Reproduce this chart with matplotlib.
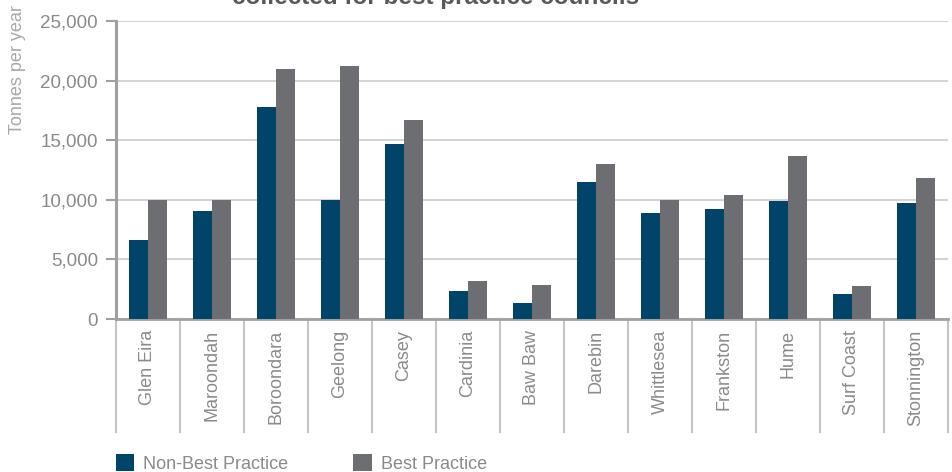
import numpy as np
import matplotlib
matplotlib.use("Agg")
import matplotlib.pyplot as plt

plt.rcParams['font.family'] = ['Liberation Sans', 'DejaVu Sans']

# Councils and tonnes collected per year
councils = ['Glen Eira', 'Maroondah', 'Boroondara', 'Geelong', 'Casey', 'Cardinia',
            'Baw Baw', 'Darebin', 'Whittlesea', 'Frankston', 'Hume', 'Surf Coast',
            'Stonnington']
non_best = [6600, 9100, 17800, 10000, 14700, 2350, 1340, 11500, 8900, 9200, 9900, 2100, 9700]
best = [10000, 10000, 21000, 21200, 16700, 3200, 2850, 13000, 10000, 10400, 13700, 2800, 11800]
yticks = [0, 5000, 10000, 15000, 20000, 25000]

blue = '#00446A'
grey = '#6D6E71'
txt = '#8A8A8A'

fig = plt.figure(figsize=(9.52, 4.72), dpi=100)
ax = fig.add_axes([116/952, 1 - 319/472, 832/952, 298/472])

x = np.arange(len(councils))
w = 0.3
ax.bar(x - w/2, non_best, w, color=blue, label='Non-Best Practice', zorder=3)
ax.bar(x + w/2, best, w, color=grey, label='Best Practice', zorder=3)

ax.set_xlim(-0.5, len(councils) - 0.5)
ax.set_ylim(0, 25000)
ax.set_yticks(yticks)
ax.set_yticklabels([f'{v:,}' for v in yticks])
ax.yaxis.grid(True, color='#D4D4D4', lw=1.5, zorder=0)
ax.tick_params(axis='y', colors='#A0A0A0', labelcolor=txt, labelsize=13.5,
               length=7, width=1.5, pad=6)
ax.set_xticks([])

for s in ['top', 'right']:
    ax.spines[s].set_visible(False)
ax.spines['left'].set_color('#A0A0A0')
ax.spines['left'].set_linewidth(2.2)
ax.spines['bottom'].set_color('#A0A0A0')
ax.spines['bottom'].set_linewidth(2)

# category separators below the axis and rotated names
for b in np.arange(len(councils) + 1) - 0.5:
    ax.plot([b, b], [0, -9500], color='#C4C4C6', lw=1.5, clip_on=False, zorder=1)
for i, name in enumerate(councils):
    ax.text(i, -900, name, rotation=90, ha='center', va='top', fontsize=13,
            color=txt)

fig.text(18/952, 1 - 70/472, 'Tonnes per year', rotation=90, ha='center',
         va='center', fontsize=13, color='#A8A8A8')

fig.text(0.457, 1 - 4/472, 'collected for best practice councils', ha='center',
         va='baseline', fontsize=17.5, fontweight='bold', color='#58595B')

leg = fig.legend(loc='lower left', bbox_to_anchor=(100/952, -17/472), ncol=2,
                 frameon=False, fontsize=13, handlelength=1.0, handleheight=1.0,
                 handletextpad=0.5, columnspacing=3.6)
for t in leg.get_texts():
    t.set_color(txt)

fig.savefig('out.png', dpi=100)
